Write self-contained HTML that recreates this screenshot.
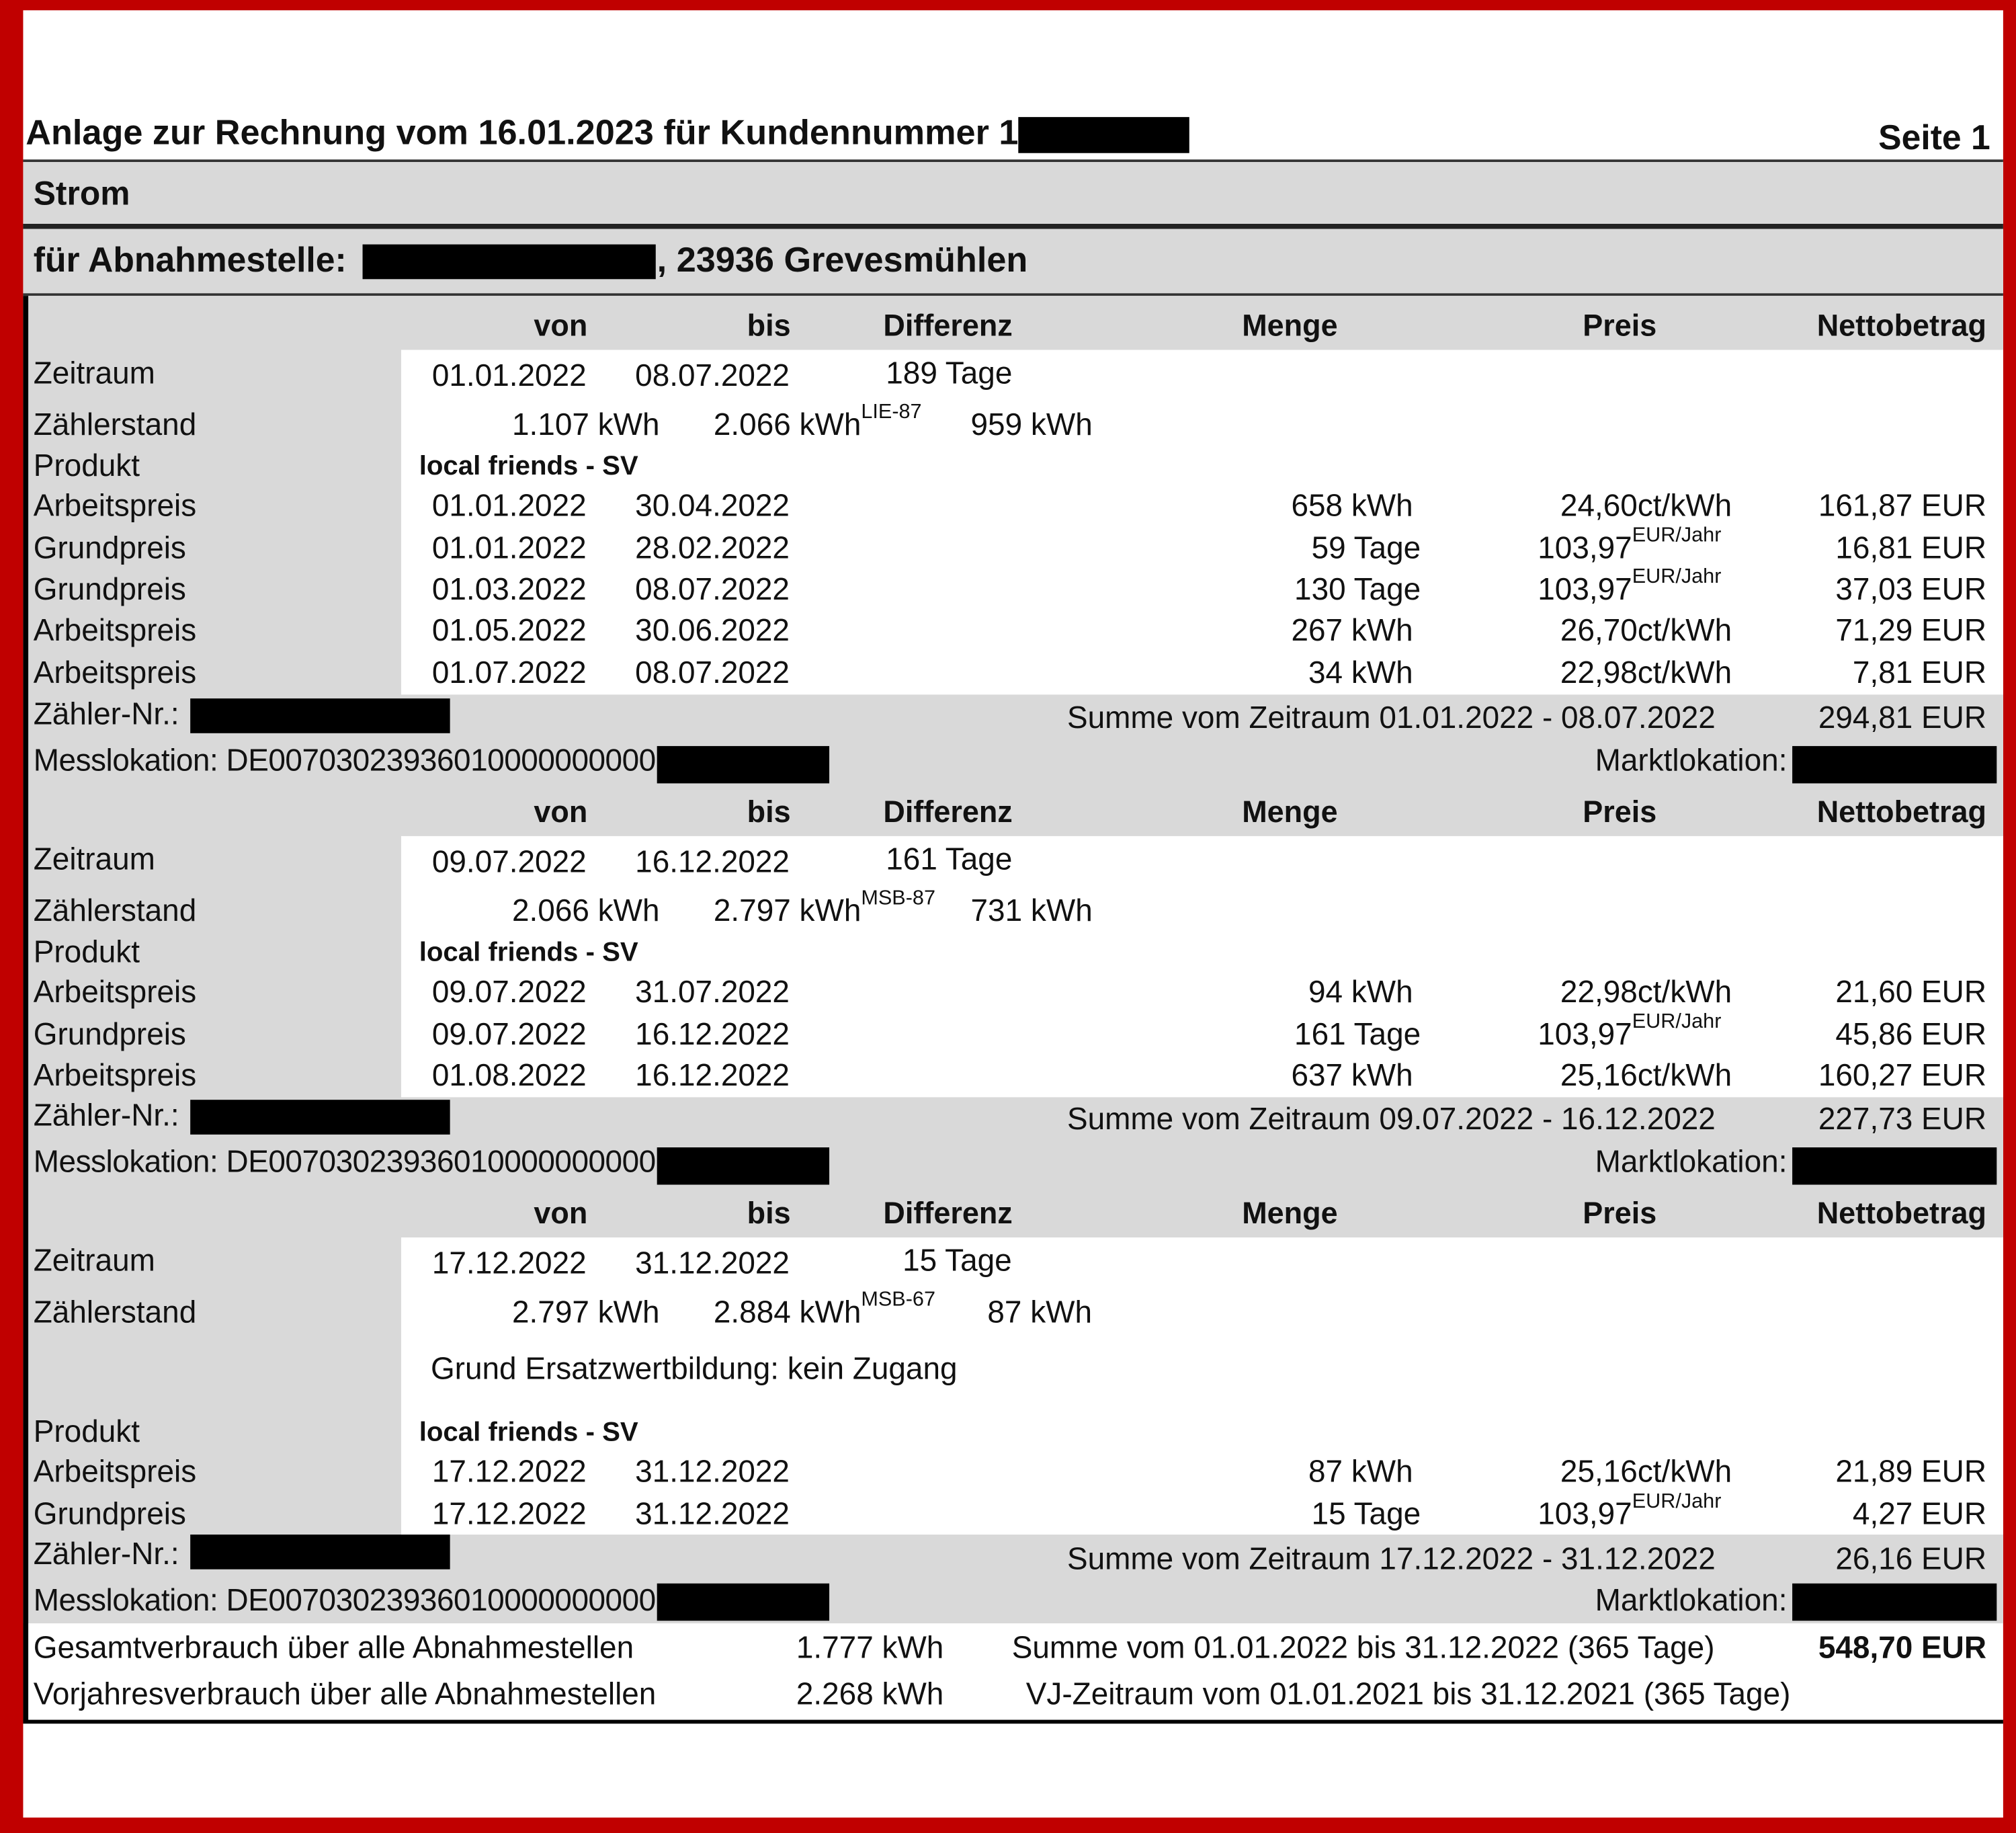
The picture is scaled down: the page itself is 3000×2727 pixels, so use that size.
<!DOCTYPE html>
<html><head><meta charset="utf-8"><style>
html,body{margin:0;padding:0;background:#c00000;}
body{width:3000px;height:2727px;overflow:hidden;position:relative;}
#c{position:absolute;left:0;top:0;width:1568px;height:1425px;transform:scale(1.91327,1.91368);transform-origin:0 0;font-family:"Liberation Sans",Arial,sans-serif;color:#111;}
.w{position:absolute;background:#fff;}
.g{position:absolute;background:#d9d9d9;}
.k{position:absolute;background:#000;}
.t{position:absolute;height:28px;line-height:28px;font-size:24px;white-space:nowrap;}
.r{text-align:right;}
.b{font-weight:bold;}
.h{font-weight:bold;font-size:23.5px;}
sup{font-size:16px;position:relative;top:-4px;vertical-align:top;line-height:16px;}
.m{letter-spacing:-0.25px;}
</style></head><body><div id="c">
<div class="w" style="left:18px;top:8px;width:1540px;height:1405px"></div>
<div class="t b" style="left:20px;top:89px;font-size:27.3px">Anlage zur Rechnung vom 16.01.2023 für Kundennummer 1</div>
<div class="k" style="left:792px;top:91px;width:133px;height:28px"></div>
<div class="t b r" style="right:20px;top:93px;font-size:27px">Seite 1</div>
<div class="k" style="left:18px;top:124px;width:1540px;height:2px;background:#333"></div>
<div class="g" style="left:18px;top:126px;width:1540px;height:48px"></div>
<div class="t b" style="left:26px;top:136px;font-size:26px">Strom</div>
<div class="k" style="left:18px;top:174px;width:1540px;height:4px;background:#222"></div>
<div class="g" style="left:18px;top:178px;width:1540px;height:50px"></div>
<div class="t b" style="left:26px;top:188px;font-size:27px">für Abnahmestelle:</div>
<div class="k" style="left:282px;top:190px;width:228px;height:27px"></div>
<div class="t b" style="left:511px;top:188px;font-size:27.3px">, 23936 Grevesmühlen</div>
<div class="k" style="left:18px;top:228px;width:1540px;height:2px;background:#333"></div>
<div class="g" style="left:18px;top:230px;width:1540px;height:1032px"></div>
<div class="k" style="left:18px;top:230px;width:4px;height:1108px"></div>
<div class="w" style="left:312px;top:272px;width:1246px;height:268px"></div>
<div class="w" style="left:312px;top:650px;width:1246px;height:203px"></div>
<div class="w" style="left:312px;top:962px;width:1246px;height:231px"></div>
<div class="k" style="left:18px;top:1337px;width:1540px;height:3px"></div>

<!-- block 1 -->
<div class="t h r" style="right:1111px;top:239px">von</div>
<div class="t h r" style="right:953px;top:239px">bis</div>
<div class="t h" style="left:687px;top:239px">Differenz</div>
<div class="t h" style="left:966px;top:239px">Menge</div>
<div class="t h" style="left:1231px;top:239px">Preis</div>
<div class="t h r" style="right:23px;top:239px">Nettobetrag</div>
<div class="t" style="left:26px;top:277px">Zeitraum</div>
<div class="t" style="left:336px;top:279px">01.01.2022</div><div class="t" style="left:494px;top:279px">08.07.2022</div>
<div class="t" style="left:689px;top:277px">189 Tage</div>
<div class="t" style="left:26px;top:317px">Zählerstand</div>
<div class="t r" style="right:1055px;top:317px">1.107 kWh</div>
<div class="t" style="left:555px;top:317px">2.066 kWh<sup>LIE-87</sup></div>
<div class="t" style="left:755px;top:317px">959 kWh</div>
<div class="t" style="left:26px;top:349px">Produkt</div>
<div class="t b" style="left:326px;top:349px;font-size:21px">local friends - SV</div>
<div class="t" style="left:26px;top:380px">Arbeitspreis</div><div class="t" style="left:336px;top:380px">01.01.2022</div><div class="t" style="left:494px;top:380px">30.04.2022</div><div class="t r" style="right:469px;top:380px">658 kWh</div><div class="t r" style="right:221px;top:380px">24,60ct/kWh</div><div class="t r" style="right:23px;top:380px">161,87 EUR</div>
<div class="t" style="left:26px;top:413px">Grundpreis</div><div class="t" style="left:336px;top:413px">01.01.2022</div><div class="t" style="left:494px;top:413px">28.02.2022</div><div class="t r" style="right:463px;top:413px">59 Tage</div><div class="t" style="left:1196px;top:413px">103,97<sup>EUR/Jahr</sup></div><div class="t r" style="right:23px;top:413px">16,81 EUR</div>
<div class="t" style="left:26px;top:445px">Grundpreis</div><div class="t" style="left:336px;top:445px">01.03.2022</div><div class="t" style="left:494px;top:445px">08.07.2022</div><div class="t r" style="right:463px;top:445px">130 Tage</div><div class="t" style="left:1196px;top:445px">103,97<sup>EUR/Jahr</sup></div><div class="t r" style="right:23px;top:445px">37,03 EUR</div>
<div class="t" style="left:26px;top:477px">Arbeitspreis</div><div class="t" style="left:336px;top:477px">01.05.2022</div><div class="t" style="left:494px;top:477px">30.06.2022</div><div class="t r" style="right:469px;top:477px">267 kWh</div><div class="t r" style="right:221px;top:477px">26,70ct/kWh</div><div class="t r" style="right:23px;top:477px">71,29 EUR</div>
<div class="t" style="left:26px;top:510px">Arbeitspreis</div><div class="t" style="left:336px;top:510px">01.07.2022</div><div class="t" style="left:494px;top:510px">08.07.2022</div><div class="t r" style="right:469px;top:510px">34 kWh</div><div class="t r" style="right:221px;top:510px">22,98ct/kWh</div><div class="t r" style="right:23px;top:510px">7,81 EUR</div>
<div class="t" style="left:26px;top:542px">Zähler-Nr.:</div><div class="k" style="left:148px;top:543px;width:202px;height:27px"></div>
<div class="t" style="left:830px;top:545px">Summe vom Zeitraum 01.01.2022 - 08.07.2022</div><div class="t r" style="right:23px;top:545px">294,81 EUR</div>
<div class="t m" style="left:26px;top:578px">Messlokation: DE00703023936010000000000</div><div class="k" style="left:511px;top:580px;width:134px;height:29px"></div>
<div class="t r" style="right:178px;top:578px">Marktlokation:</div><div class="k" style="left:1394px;top:580px;width:159px;height:29px"></div>

<!-- block 2 -->
<div class="t h r" style="right:1111px;top:617px">von</div>
<div class="t h r" style="right:953px;top:617px">bis</div>
<div class="t h" style="left:687px;top:617px">Differenz</div>
<div class="t h" style="left:966px;top:617px">Menge</div>
<div class="t h" style="left:1231px;top:617px">Preis</div>
<div class="t h r" style="right:23px;top:617px">Nettobetrag</div>
<div class="t" style="left:26px;top:655px">Zeitraum</div>
<div class="t" style="left:336px;top:657px">09.07.2022</div><div class="t" style="left:494px;top:657px">16.12.2022</div>
<div class="t" style="left:689px;top:655px">161 Tage</div>
<div class="t" style="left:26px;top:695px">Zählerstand</div>
<div class="t r" style="right:1055px;top:695px">2.066 kWh</div>
<div class="t" style="left:555px;top:695px">2.797 kWh<sup>MSB-87</sup></div>
<div class="t" style="left:755px;top:695px">731 kWh</div>
<div class="t" style="left:26px;top:727px">Produkt</div>
<div class="t b" style="left:326px;top:727px;font-size:21px">local friends - SV</div>
<div class="t" style="left:26px;top:758px">Arbeitspreis</div><div class="t" style="left:336px;top:758px">09.07.2022</div><div class="t" style="left:494px;top:758px">31.07.2022</div><div class="t r" style="right:469px;top:758px">94 kWh</div><div class="t r" style="right:221px;top:758px">22,98ct/kWh</div><div class="t r" style="right:23px;top:758px">21,60 EUR</div>
<div class="t" style="left:26px;top:791px">Grundpreis</div><div class="t" style="left:336px;top:791px">09.07.2022</div><div class="t" style="left:494px;top:791px">16.12.2022</div><div class="t r" style="right:463px;top:791px">161 Tage</div><div class="t" style="left:1196px;top:791px">103,97<sup>EUR/Jahr</sup></div><div class="t r" style="right:23px;top:791px">45,86 EUR</div>
<div class="t" style="left:26px;top:823px">Arbeitspreis</div><div class="t" style="left:336px;top:823px">01.08.2022</div><div class="t" style="left:494px;top:823px">16.12.2022</div><div class="t r" style="right:469px;top:823px">637 kWh</div><div class="t r" style="right:221px;top:823px">25,16ct/kWh</div><div class="t r" style="right:23px;top:823px">160,27 EUR</div>
<div class="t" style="left:26px;top:854px">Zähler-Nr.:</div><div class="k" style="left:148px;top:855px;width:202px;height:27px"></div>
<div class="t" style="left:830px;top:857px">Summe vom Zeitraum 09.07.2022 - 16.12.2022</div><div class="t r" style="right:23px;top:857px">227,73 EUR</div>
<div class="t m" style="left:26px;top:890px">Messlokation: DE00703023936010000000000</div><div class="k" style="left:511px;top:892px;width:134px;height:29px"></div>
<div class="t r" style="right:178px;top:890px">Marktlokation:</div><div class="k" style="left:1394px;top:892px;width:159px;height:29px"></div>

<!-- block 3 -->
<div class="t h r" style="right:1111px;top:929px">von</div>
<div class="t h r" style="right:953px;top:929px">bis</div>
<div class="t h" style="left:687px;top:929px">Differenz</div>
<div class="t h" style="left:966px;top:929px">Menge</div>
<div class="t h" style="left:1231px;top:929px">Preis</div>
<div class="t h r" style="right:23px;top:929px">Nettobetrag</div>
<div class="t" style="left:26px;top:967px">Zeitraum</div>
<div class="t" style="left:336px;top:969px">17.12.2022</div><div class="t" style="left:494px;top:969px">31.12.2022</div>
<div class="t" style="left:702px;top:967px">15 Tage</div>
<div class="t" style="left:26px;top:1007px">Zählerstand</div>
<div class="t r" style="right:1055px;top:1007px">2.797 kWh</div>
<div class="t" style="left:555px;top:1007px">2.884 kWh<sup>MSB-67</sup></div>
<div class="t" style="left:768px;top:1007px">87 kWh</div>
<div class="t" style="left:335px;top:1051px">Grund Ersatzwertbildung: kein Zugang</div>
<div class="t" style="left:26px;top:1100px">Produkt</div>
<div class="t b" style="left:326px;top:1100px;font-size:21px">local friends - SV</div>
<div class="t" style="left:26px;top:1131px">Arbeitspreis</div><div class="t" style="left:336px;top:1131px">17.12.2022</div><div class="t" style="left:494px;top:1131px">31.12.2022</div><div class="t r" style="right:469px;top:1131px">87 kWh</div><div class="t r" style="right:221px;top:1131px">25,16ct/kWh</div><div class="t r" style="right:23px;top:1131px">21,89 EUR</div>
<div class="t" style="left:26px;top:1164px">Grundpreis</div><div class="t" style="left:336px;top:1164px">17.12.2022</div><div class="t" style="left:494px;top:1164px">31.12.2022</div><div class="t r" style="right:463px;top:1164px">15 Tage</div><div class="t" style="left:1196px;top:1164px">103,97<sup>EUR/Jahr</sup></div><div class="t r" style="right:23px;top:1164px">4,27 EUR</div>
<div class="t" style="left:26px;top:1195px">Zähler-Nr.:</div><div class="k" style="left:148px;top:1193px;width:202px;height:27px"></div>
<div class="t" style="left:830px;top:1199px">Summe vom Zeitraum 17.12.2022 - 31.12.2022</div><div class="t r" style="right:23px;top:1199px">26,16 EUR</div>
<div class="t m" style="left:26px;top:1231px">Messlokation: DE00703023936010000000000</div><div class="k" style="left:511px;top:1231px;width:134px;height:29px"></div>
<div class="t r" style="right:178px;top:1231px">Marktlokation:</div><div class="k" style="left:1394px;top:1231px;width:159px;height:29px"></div>

<!-- bottom -->
<div class="t" style="left:26px;top:1268px">Gesamtverbrauch über alle Abnahmestellen</div>
<div class="t r" style="right:834px;top:1268px">1.777 kWh</div>
<div class="t" style="left:787px;top:1268px">Summe vom 01.01.2022 bis 31.12.2022 (365 Tage)</div>
<div class="t b r" style="right:23px;top:1268px">548,70 EUR</div>
<div class="t" style="left:26px;top:1304px">Vorjahresverbrauch über alle Abnahmestellen</div>
<div class="t r" style="right:834px;top:1304px">2.268 kWh</div>
<div class="t" style="left:798px;top:1304px">VJ-Zeitraum vom 01.01.2021 bis 31.12.2021 (365 Tage)</div>
</div></body></html>
